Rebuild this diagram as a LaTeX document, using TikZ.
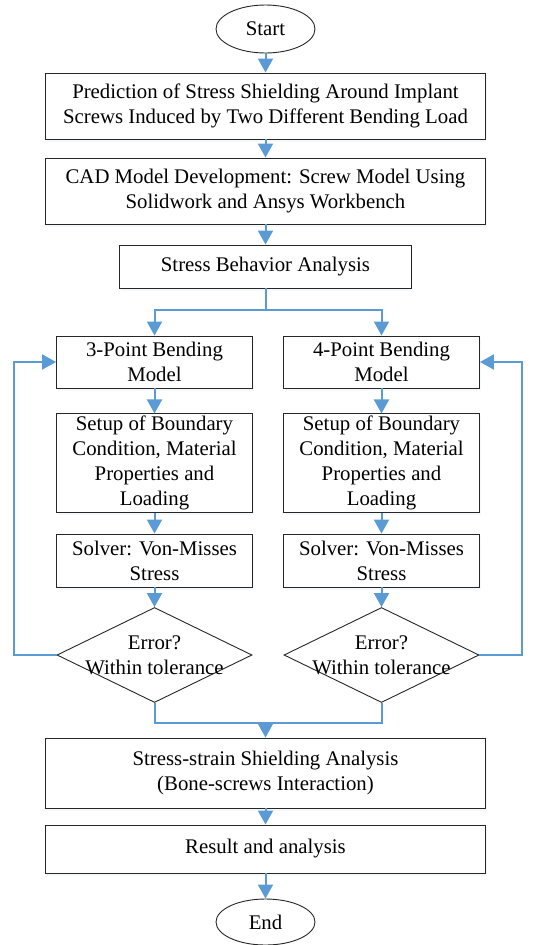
\documentclass[tikz,border=0pt]{standalone}
\usepackage{fontspec}
\setmainfont{Liberation Serif}
\usetikzlibrary{shapes.geometric,arrows.meta,shadows}
\definecolor{flowblue}{RGB}{91,155,213}

\tikzstyle{block} = [rectangle, minimum width=440pt, minimum height=66pt,
text centered, align=center, draw=black!85, line width=0.9pt, inner ysep=2pt,
fill=white, drop shadow={shadow xshift=1pt, shadow yshift=-3pt, fill=flowblue!12}]
\tikzstyle{colbox} = [block, minimum width=196pt, minimum height=52pt]
\tikzstyle{terminal} = [ellipse, minimum width=99pt, minimum height=48pt,
draw=black!85, line width=0.9pt]
\tikzstyle{decision} = [diamond, minimum width=195pt, minimum height=95pt,
inner sep=0pt, draw=black!85, line width=0.9pt]
\tikzstyle{arrow} = [flowblue, line width=2pt, ->, >={Triangle[length=14pt,width=15pt]}]
\tikzstyle{line} = [flowblue, line width=2pt, -]

\begin{document}
\begin{tikzpicture}[x=1pt, y=1pt, node distance=80pt, font=\fontsize{20.8}{25}\selectfont]
    \useasboundingbox (0,0) rectangle (552,-945);
    \node (start) [terminal] at (265.5,-29) {Start};
    \node (pred) [block, below of=start, yshift=3pt] {Prediction of Stress Shielding Around Implant\\Screws Induced by Two Different Bending Load};
    \node (cad) [block, below of=pred, yshift=-5pt] {CAD Model Development: Screw Model Using\\Solidwork and Ansys Workbench};
    \node (sba) [block, below of=cad, yshift=4.5pt, minimum width=292pt, minimum height=43pt] {Stress Behavior Analysis};
    \node (bend3) [colbox, below of=sba, xshift=-111pt, yshift=-15.5pt] {3-Point Bending\\Model};
    \node (bend4) [colbox, right of=bend3, xshift=147pt] {4-Point Bending\\Model};
    \node (setup3) [colbox, below of=bend3, yshift=-21pt, minimum height=96pt] {Setup of Boundary\\Condition, Material\\Properties and\\Loading};
    \node (setup4) [colbox, below of=bend4, yshift=-21pt, minimum height=96pt] {Setup of Boundary\\Condition, Material\\Properties and\\Loading};
    \node (solver3) [colbox, below of=setup3, yshift=-17.5pt, minimum height=53pt] {Solver: Von-Misses\\Stress};
    \node (solver4) [colbox, below of=setup4, yshift=-17.5pt, minimum height=53pt] {Solver: Von-Misses\\Stress};
    \node (err3) [decision, below of=solver3, yshift=-14.5pt, label={[align=center]center:{Error?\\Within tolerance}}] {};
    \node (err4) [decision, below of=solver4, yshift=-14.5pt, label={[align=center]center:{Error?\\Within tolerance}}] {};
    \node (ssa) [block, below of=err3, xshift=111pt, yshift=-38pt, minimum height=70pt] {Stress-strain Shielding Analysis\\(Bone-screws Interaction)};
    \node (res) [block, below of=ssa, yshift=4pt, minimum height=48pt] {Result and analysis};
    \node (stop) [terminal, below of=res, yshift=7pt, minimum height=46pt] {End};

    \coordinate (split) at ([yshift=-22pt]sba.south);
    \coordinate (merge) at ([yshift=15pt]ssa.north);

    \draw [arrow] (start) -- (pred);
    \draw [arrow] (pred) -- (cad);
    \draw [arrow] (cad) -- (sba);
    \draw [line] (sba) -- (split);
    \draw [arrow] (split) -| (bend3);
    \draw [arrow] (split) -| (bend4);
    \draw [arrow] (bend3) -- (setup3);
    \draw [arrow] (bend4) -- (setup4);
    \draw [arrow] (setup3) -- (solver3);
    \draw [arrow] (setup4) -- (solver4);
    \draw [arrow] (solver3) -- (err3);
    \draw [arrow] (solver4) -- (err4);
    \draw [arrow] (err3.west) -- ++(-43pt,0) |- (bend3);
    \draw [arrow] (err4.east) -- ++(43pt,0) |- (bend4);
    \draw [line] (err3.south) |- (merge) -| (err4.south);
    \draw [arrow] (merge) -- (ssa);
    \draw [arrow] (ssa) -- (res);
    \draw [arrow] (res) -- (stop);
\end{tikzpicture}
\end{document}
